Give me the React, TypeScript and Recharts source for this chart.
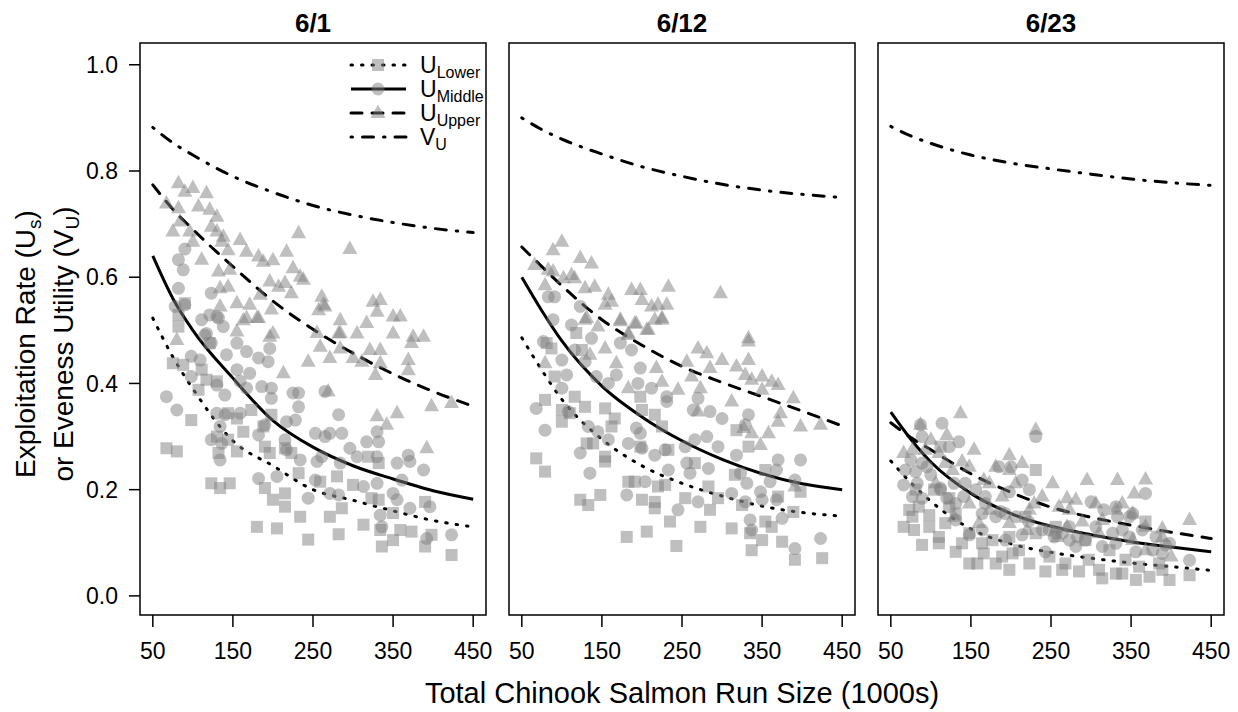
import React from 'react';
import { ComposedChart, XAxis, YAxis, Scatter, Line, ReferenceArea } from 'recharts';

const FONT = 'Liberation Sans, Arial, Helvetica, sans-serif';

// axes
const xTicks = [50, 150, 250, 350, 450];
const yTicks = [0, 0.2, 0.4, 0.6, 0.8, 1.0];
const xDomain = [34, 466];
const yDomain = [-0.036, 1.041];
const panelTitles = ['6/1', '6/12', '6/23'];

// fitted curves at these run sizes
const curveX = [50, 75, 100, 150, 200, 250, 300, 350, 400, 450];

const p1Lower = [0.523, 0.45, 0.39, 0.292, 0.245, 0.2, 0.18, 0.16, 0.142, 0.13];
const p1Middle = [0.64, 0.56, 0.5, 0.41, 0.33, 0.28, 0.245, 0.22, 0.198, 0.182];
const p1Upper = [0.774, 0.728, 0.69, 0.62, 0.555, 0.502, 0.457, 0.418, 0.385, 0.357];
const p1VU = [0.882, 0.853, 0.83, 0.79, 0.76, 0.735, 0.717, 0.703, 0.692, 0.684];

const p2Lower = [0.486, 0.425, 0.37, 0.295, 0.245, 0.212, 0.188, 0.169, 0.157, 0.15];
const p2Middle = [0.6, 0.537, 0.48, 0.395, 0.337, 0.292, 0.257, 0.23, 0.211, 0.2];
const p2Upper = [0.657, 0.62, 0.584, 0.52, 0.472, 0.432, 0.402, 0.375, 0.348, 0.32];
const p2VU = [0.9, 0.878, 0.86, 0.832, 0.808, 0.79, 0.775, 0.764, 0.756, 0.75];

const p3Lower = [0.254, 0.213, 0.178, 0.126, 0.098, 0.082, 0.071, 0.062, 0.055, 0.048];
const p3Middle = [0.346, 0.295, 0.252, 0.193, 0.155, 0.131, 0.115, 0.102, 0.092, 0.083];
const p3Upper = [0.326, 0.298, 0.275, 0.23, 0.195, 0.167, 0.148, 0.133, 0.12, 0.108];
const p3VU = [0.884, 0.866, 0.852, 0.83, 0.815, 0.804, 0.794, 0.785, 0.778, 0.773];

// simulated exploitation rates: [run size, rate]
const p1Squares = [
  [82, 0.507], [75, 0.438], [88, 0.435], [111, 0.426], [117, 0.407], [130, 0.404], [107, 0.388], [98, 0.331],
  [67, 0.278], [80, 0.272], [121, 0.476], [144, 0.344], [155, 0.334], [163, 0.309], [173, 0.35], [188, 0.319],
  [198, 0.341], [130, 0.3], [144, 0.294], [155, 0.272], [132, 0.269], [190, 0.281], [196, 0.269], [215, 0.278],
  [223, 0.269], [123, 0.212], [134, 0.203], [146, 0.212], [190, 0.203], [215, 0.193], [200, 0.181], [215, 0.168],
  [232, 0.231], [259, 0.215], [280, 0.225], [300, 0.209], [234, 0.149], [180, 0.13], [205, 0.127], [244, 0.106],
  [271, 0.149], [282, 0.116], [286, 0.165], [313, 0.134], [319, 0.262], [332, 0.25], [323, 0.184], [332, 0.181],
  [336, 0.093], [350, 0.105], [334, 0.124], [359, 0.124], [373, 0.121], [390, 0.177], [350, 0.156], [390, 0.093],
  [398, 0.115], [423, 0.077], [90, 0.551], [82, 0.529],
];
const p1Circles = [
  [90, 0.653], [82, 0.633], [88, 0.614], [82, 0.579], [123, 0.57], [111, 0.52], [130, 0.526], [138, 0.507],
  [117, 0.494], [78, 0.545], [90, 0.548], [121, 0.529], [132, 0.523], [115, 0.491], [123, 0.476], [155, 0.476],
  [167, 0.46], [142, 0.454], [196, 0.466], [98, 0.451], [109, 0.444], [182, 0.448], [194, 0.441], [155, 0.426],
  [171, 0.419], [98, 0.413], [130, 0.397], [140, 0.378], [159, 0.404], [167, 0.391], [186, 0.394], [198, 0.391],
  [198, 0.372], [225, 0.382], [232, 0.382], [232, 0.356], [265, 0.385], [67, 0.375], [80, 0.35], [130, 0.344],
  [140, 0.341], [159, 0.344], [134, 0.319], [190, 0.322], [217, 0.328], [228, 0.331], [282, 0.341], [182, 0.303],
  [123, 0.294], [136, 0.287], [215, 0.294], [253, 0.306], [265, 0.3], [271, 0.306], [286, 0.306], [296, 0.278],
  [317, 0.29], [330, 0.309], [332, 0.29], [217, 0.275], [234, 0.256], [255, 0.253], [261, 0.262], [284, 0.25],
  [305, 0.262], [330, 0.262], [355, 0.25], [369, 0.265], [371, 0.253], [388, 0.237], [134, 0.256], [182, 0.221],
  [205, 0.225], [253, 0.218], [244, 0.184], [271, 0.193], [282, 0.19], [313, 0.206], [330, 0.212], [361, 0.218],
  [350, 0.193], [355, 0.181], [334, 0.152], [371, 0.165], [396, 0.168], [392, 0.108], [423, 0.115], [336, 0.13],
];
const p1Triangles = [
  [82, 0.777], [90, 0.761], [100, 0.768], [117, 0.758], [67, 0.739], [82, 0.73], [107, 0.733], [121, 0.727],
  [130, 0.714], [84, 0.705], [75, 0.686], [96, 0.686], [123, 0.695], [130, 0.686], [138, 0.676], [100, 0.667],
  [111, 0.633], [136, 0.667], [159, 0.67], [144, 0.651], [167, 0.648], [182, 0.639], [188, 0.629], [200, 0.632],
  [217, 0.648], [232, 0.683], [296, 0.653], [132, 0.611], [146, 0.614], [144, 0.582], [134, 0.579], [155, 0.551],
  [134, 0.545], [171, 0.548], [184, 0.567], [196, 0.592], [207, 0.582], [215, 0.589], [223, 0.57], [234, 0.601],
  [225, 0.617], [238, 0.595], [261, 0.563], [265, 0.545], [257, 0.538], [284, 0.519], [325, 0.554], [334, 0.557],
  [330, 0.535], [350, 0.526], [359, 0.526], [305, 0.494], [388, 0.488], [350, 0.494], [375, 0.488], [163, 0.519],
  [182, 0.523], [200, 0.494], [282, 0.494], [198, 0.539], [167, 0.523], [180, 0.523], [263, 0.548], [317, 0.514],
  [155, 0.498], [196, 0.488], [80, 0.482], [255, 0.495], [284, 0.495], [373, 0.476], [259, 0.469], [284, 0.466],
  [321, 0.463], [334, 0.463], [244, 0.441], [271, 0.448], [300, 0.448], [311, 0.441], [334, 0.438], [369, 0.444],
  [369, 0.425], [328, 0.416], [213, 0.419], [269, 0.385], [398, 0.357], [423, 0.363], [330, 0.338], [355, 0.344],
  [342, 0.322], [392, 0.278],
];

const p2Squares = [
  [87, 0.466], [81, 0.476], [118, 0.495], [125, 0.463], [91, 0.413], [116, 0.375], [79, 0.369], [100, 0.35],
  [110, 0.344], [100, 0.328], [129, 0.356], [154, 0.353], [166, 0.334], [162, 0.319], [198, 0.375], [200, 0.35],
  [216, 0.341], [225, 0.319], [131, 0.287], [139, 0.287], [154, 0.253], [154, 0.262], [68, 0.259], [79, 0.234],
  [198, 0.281], [233, 0.275], [183, 0.215], [191, 0.215], [220, 0.206], [229, 0.209], [200, 0.181], [216, 0.177],
  [216, 0.165], [123, 0.181], [133, 0.171], [148, 0.19], [181, 0.111], [206, 0.121], [235, 0.14], [243, 0.094],
  [254, 0.184], [273, 0.13], [266, 0.25], [283, 0.206], [285, 0.162], [295, 0.184], [318, 0.312], [333, 0.281],
  [316, 0.228], [325, 0.171], [312, 0.127], [335, 0.118], [354, 0.237], [370, 0.187], [354, 0.14], [362, 0.13],
  [350, 0.105], [337, 0.086], [375, 0.102], [398, 0.196], [389, 0.158], [391, 0.068], [425, 0.071],
];
const p2Circles = [
  [83, 0.563], [91, 0.563], [123, 0.545], [89, 0.52], [112, 0.51], [77, 0.479], [100, 0.444], [106, 0.416],
  [116, 0.463], [137, 0.485], [129, 0.441], [143, 0.413], [158, 0.4], [168, 0.416], [173, 0.476], [187, 0.463],
  [198, 0.429], [195, 0.4], [212, 0.391], [231, 0.375], [231, 0.366], [270, 0.372], [264, 0.35], [285, 0.347],
  [300, 0.334], [68, 0.353], [79, 0.312], [100, 0.391], [108, 0.347], [133, 0.319], [145, 0.309], [123, 0.269],
  [135, 0.231], [158, 0.294], [183, 0.287], [193, 0.316], [198, 0.306], [200, 0.278], [216, 0.265], [229, 0.275],
  [233, 0.237], [204, 0.215], [181, 0.19], [245, 0.162], [254, 0.281], [266, 0.294], [281, 0.3], [295, 0.281],
  [256, 0.25], [260, 0.231], [283, 0.24], [270, 0.177], [318, 0.265], [323, 0.231], [333, 0.341], [329, 0.322],
  [331, 0.212], [348, 0.196], [350, 0.181], [370, 0.256], [368, 0.237], [360, 0.215], [398, 0.256], [391, 0.218],
  [368, 0.181], [375, 0.146], [335, 0.143], [337, 0.124], [391, 0.089], [423, 0.108], [312, 0.193], [329, 0.177],
];
const p2Triangles = [
  [100, 0.667], [89, 0.651], [66, 0.623], [83, 0.614], [89, 0.611], [123, 0.636], [137, 0.626], [112, 0.604],
  [102, 0.598], [116, 0.598], [79, 0.585], [129, 0.579], [141, 0.582], [158, 0.567], [162, 0.554], [187, 0.576],
  [198, 0.576], [200, 0.557], [233, 0.582], [231, 0.548], [212, 0.545], [225, 0.523], [216, 0.52], [298, 0.57],
  [173, 0.52], [191, 0.513], [206, 0.501], [131, 0.523], [145, 0.507], [183, 0.494], [333, 0.485], [129, 0.52],
  [173, 0.517], [193, 0.513], [208, 0.501], [225, 0.52], [220, 0.548], [154, 0.548], [183, 0.491], [79, 0.438],
  [135, 0.454], [154, 0.466], [168, 0.438], [218, 0.429], [183, 0.391], [225, 0.403], [245, 0.388], [256, 0.441],
  [270, 0.466], [281, 0.457], [300, 0.444], [285, 0.429], [262, 0.413], [273, 0.391], [333, 0.479], [333, 0.444],
  [318, 0.432], [329, 0.416], [337, 0.407], [350, 0.413], [362, 0.403], [370, 0.397], [350, 0.388], [312, 0.366],
  [389, 0.372], [373, 0.344], [370, 0.328], [398, 0.319], [423, 0.322], [327, 0.316], [358, 0.306], [348, 0.284],
  [391, 0.206], [270, 0.347], [337, 0.306],
];

const p3Squares = [
  [66, 0.13], [79, 0.124], [89, 0.096], [77, 0.149], [98, 0.152], [85, 0.168], [110, 0.111], [110, 0.099],
  [104, 0.2], [123, 0.184], [131, 0.155], [131, 0.083], [148, 0.118], [148, 0.061], [158, 0.061], [166, 0.08],
  [181, 0.061], [189, 0.074], [198, 0.049], [202, 0.08], [223, 0.061], [243, 0.046], [264, 0.049], [268, 0.061],
  [285, 0.046], [231, 0.237], [231, 0.118], [218, 0.149], [256, 0.13], [164, 0.099], [198, 0.111], [314, 0.033],
  [331, 0.042], [356, 0.03], [373, 0.036], [398, 0.03], [423, 0.039], [368, 0.14], [343, 0.068], [360, 0.055],
  [385, 0.061], [293, 0.105], [323, 0.086], [81, 0.2], [112, 0.281], [73, 0.162], [98, 0.13], [118, 0.137],
  [139, 0.099], [177, 0.105], [210, 0.086], [248, 0.074], [297, 0.068], [310, 0.049], [339, 0.042], [389, 0.049],
];
const p3Circles = [
  [87, 0.322], [114, 0.325], [89, 0.3], [135, 0.29], [123, 0.281], [231, 0.3], [75, 0.256], [89, 0.25],
  [81, 0.234], [100, 0.228], [66, 0.209], [77, 0.187], [89, 0.184], [112, 0.2], [129, 0.212], [141, 0.187],
  [123, 0.168], [131, 0.143], [185, 0.243], [200, 0.243], [223, 0.2], [214, 0.218], [198, 0.196], [164, 0.155],
  [181, 0.149], [193, 0.155], [164, 0.124], [148, 0.115], [193, 0.105], [214, 0.115], [254, 0.111], [264, 0.118],
  [243, 0.083], [300, 0.177], [316, 0.162], [331, 0.168], [333, 0.149], [352, 0.155], [368, 0.193], [293, 0.105],
  [314, 0.093], [331, 0.099], [348, 0.111], [356, 0.083], [377, 0.086], [389, 0.08], [423, 0.067], [393, 0.096],
  [273, 0.13], [283, 0.111], [248, 0.124], [168, 0.174], [68, 0.237], [83, 0.212], [95, 0.243], [112, 0.203],
  [120, 0.184], [131, 0.174], [143, 0.212], [156, 0.2], [168, 0.187], [187, 0.159], [206, 0.149], [222, 0.14],
  [239, 0.124], [256, 0.118], [273, 0.105], [281, 0.093], [306, 0.13], [327, 0.118], [339, 0.124], [348, 0.149],
  [364, 0.124], [381, 0.111], [398, 0.099],
];
const p3Triangles = [
  [137, 0.344], [87, 0.322], [231, 0.313], [100, 0.294], [120, 0.303], [66, 0.269], [77, 0.275], [110, 0.269],
  [154, 0.275], [139, 0.253], [198, 0.265], [214, 0.25], [181, 0.243], [198, 0.237], [127, 0.237], [166, 0.218],
  [252, 0.212], [295, 0.218], [333, 0.218], [368, 0.219], [354, 0.193], [270, 0.184], [281, 0.181], [260, 0.168],
  [229, 0.174], [223, 0.162], [189, 0.187], [173, 0.162], [148, 0.174], [129, 0.149], [160, 0.137], [198, 0.137],
  [220, 0.124], [270, 0.13], [289, 0.14], [314, 0.143], [331, 0.162], [352, 0.155], [368, 0.13], [389, 0.127],
  [423, 0.143], [400, 0.074], [258, 0.111], [310, 0.118], [352, 0.105], [368, 0.086], [106, 0.212], [148, 0.243],
  [173, 0.212], [206, 0.212], [239, 0.187], [273, 0.162], [306, 0.174], [339, 0.174], [389, 0.111], [93, 0.275],
  [118, 0.25],
];

const toCurve = (ys: number[]) => curveX.map((x, i) => ({ x, y: ys[i] }));
const toPts = (arr: number[][]) => arr.map(([x, y]) => ({ x, y }));

const panels = [
  { lower: p1Lower, middle: p1Middle, upper: p1Upper, vu: p1VU, sq: p1Squares, ci: p1Circles, tr: p1Triangles },
  { lower: p2Lower, middle: p2Middle, upper: p2Upper, vu: p2VU, sq: p2Squares, ci: p2Circles, tr: p2Triangles },
  { lower: p3Lower, middle: p3Middle, upper: p3Upper, vu: p3VU, sq: p3Squares, ci: p3Circles, tr: p3Triangles },
];

const PT_FILL = '#7f7f7f';
const PT_OP = 0.5;

const SquareShape = (props: any) => (
  <rect x={props.cx - 6} y={props.cy - 6} width={12} height={12} fill={PT_FILL} fillOpacity={PT_OP} />
);
const CircleShape = (props: any) => (
  <circle cx={props.cx} cy={props.cy} r={6.5} fill={PT_FILL} fillOpacity={PT_OP} />
);
const TriangleShape = (props: any) => (
  <polygon
    points={`${props.cx},${props.cy - 8.5} ${props.cx - 7.5},${props.cy + 5} ${props.cx + 7.5},${props.cy + 5}`}
    fill={PT_FILL}
    fillOpacity={PT_OP}
  />
);

// line styles (round caps make the R-like dots)
const DOTTED = '1.5 9';
const DASHED = '11 10';
const DOTDASH = '1.5 10 11 10';

const Panel = ({ p, first }: { p: any; first: boolean }) => (
  <ComposedChart
    width={first ? 500 : 366}
    height={712}
    margin={{ top: 43, right: first ? 14 : 10, bottom: 37, left: first ? 0 : 10 }}
  >
    <XAxis
      type="number"
      dataKey="x"
      domain={xDomain}
      ticks={xTicks}
      interval={0}
      allowDataOverflow
      axisLine={false}
      tickLine={{ stroke: '#000', strokeWidth: 1.5 }}
      tickSize={12}
      tickMargin={16}
      height={60}
      tick={{ fontSize: 23, fill: '#000', fontFamily: FONT }}
    />
    <YAxis
      type="number"
      dataKey="y"
      domain={yDomain}
      ticks={yTicks}
      interval={0}
      allowDataOverflow
      hide={!first}
      width={first ? 140 : 0}
      axisLine={false}
      tickLine={{ stroke: '#000', strokeWidth: 1.5 }}
      tickSize={11}
      tickMargin={11}
      tickFormatter={(v: number) => v.toFixed(1)}
      tick={{ fontSize: 23, fill: '#000', fontFamily: FONT }}
    />
    <Scatter data={toPts(p.sq)} shape={SquareShape} isAnimationActive={false} />
    <Scatter data={toPts(p.ci)} shape={CircleShape} isAnimationActive={false} />
    <Scatter data={toPts(p.tr)} shape={TriangleShape} isAnimationActive={false} />
    <Line data={toCurve(p.lower)} dataKey="y" type="monotone" stroke="#000" strokeWidth={3} strokeLinecap="round" strokeDasharray={DOTTED} dot={false} activeDot={false} isAnimationActive={false} />
    <Line data={toCurve(p.middle)} dataKey="y" type="monotone" stroke="#000" strokeWidth={3} dot={false} activeDot={false} isAnimationActive={false} />
    <Line data={toCurve(p.upper)} dataKey="y" type="monotone" stroke="#000" strokeWidth={3} strokeLinecap="round" strokeDasharray={DASHED} dot={false} activeDot={false} isAnimationActive={false} />
    <Line data={toCurve(p.vu)} dataKey="y" type="monotone" stroke="#000" strokeWidth={3} strokeLinecap="round" strokeDasharray={DOTDASH} dot={false} activeDot={false} isAnimationActive={false} />
    <ReferenceArea x1={xDomain[0]} x2={xDomain[1]} y1={yDomain[0]} y2={yDomain[1]} fill="none" stroke="#000" strokeWidth={1.5} fillOpacity={0} ifOverflow="visible" />
  </ComposedChart>
);

const legendRows = [
  { sub: 'Lower', dash: DOTTED, mark: 'sq' },
  { sub: 'Middle', dash: '', mark: 'ci' },
  { sub: 'Upper', dash: DASHED, mark: 'tr' },
  { sub: 'U', dash: DOTDASH, mark: '' },
];

const Overlay = () => (
  <svg width={1238} height={712} style={{ position: 'absolute', left: 0, top: 0, pointerEvents: 'none' }} fontFamily={FONT}>
    {[313, 682, 1051].map((cx, i) => (
      <text key={i} x={cx} y={32} textAnchor="middle" fontSize={26} fontWeight="bold" fill="#000">
        {panelTitles[i]}
      </text>
    ))}
    <text x={682} y={703} textAnchor="middle" fontSize={29} fill="#000">
      Total Chinook Salmon Run Size (1000s)
    </text>
    <text x={35} y={344} textAnchor="middle" fontSize={28} fill="#000" transform="rotate(-90 35 344)">
      Exploitation Rate (U<tspan fontSize={19} dy={6}>s</tspan><tspan dy={-6}>)</tspan>
    </text>
    <text x={73} y={344} textAnchor="middle" fontSize={28} fill="#000" transform="rotate(-90 73 344)">
      or Eveness Utility (V<tspan fontSize={19} dy={6}>U</tspan><tspan dy={-6}>)</tspan>
    </text>
    {legendRows.map((r, i) => {
      const y = 65 + i * 24;
      return (
        <g key={r.sub}>
          <line x1={351} x2={406} y1={y} y2={y} stroke="#000" strokeWidth={3} strokeLinecap={r.dash ? 'round' : 'butt'} strokeDasharray={r.dash || undefined} />
          {r.mark === 'sq' && <SquareShape cx={378} cy={y} />}
          {r.mark === 'ci' && <CircleShape cx={378} cy={y} />}
          {r.mark === 'tr' && <TriangleShape cx={378} cy={y} />}
          <text x={420} y={y + 8} fontSize={23} fill="#000">
            {i === 3 ? 'V' : 'U'}
            <tspan fontSize={16} dy={5}>{r.sub}</tspan>
          </text>
        </g>
      );
    })}
  </svg>
);

export default function App() {
  return (
    <div style={{ position: 'absolute', left: 0, top: 0, width: 1238, height: 712, background: '#fff', fontFamily: FONT }}>
      <div style={{ position: 'absolute', left: 0, top: 0 }}>
        <Panel p={panels[0]} first={true} />
      </div>
      <div style={{ position: 'absolute', left: 499, top: 0 }}>
        <Panel p={panels[1]} first={false} />
      </div>
      <div style={{ position: 'absolute', left: 868, top: 0 }}>
        <Panel p={panels[2]} first={false} />
      </div>
      <Overlay />
    </div>
  );
}
